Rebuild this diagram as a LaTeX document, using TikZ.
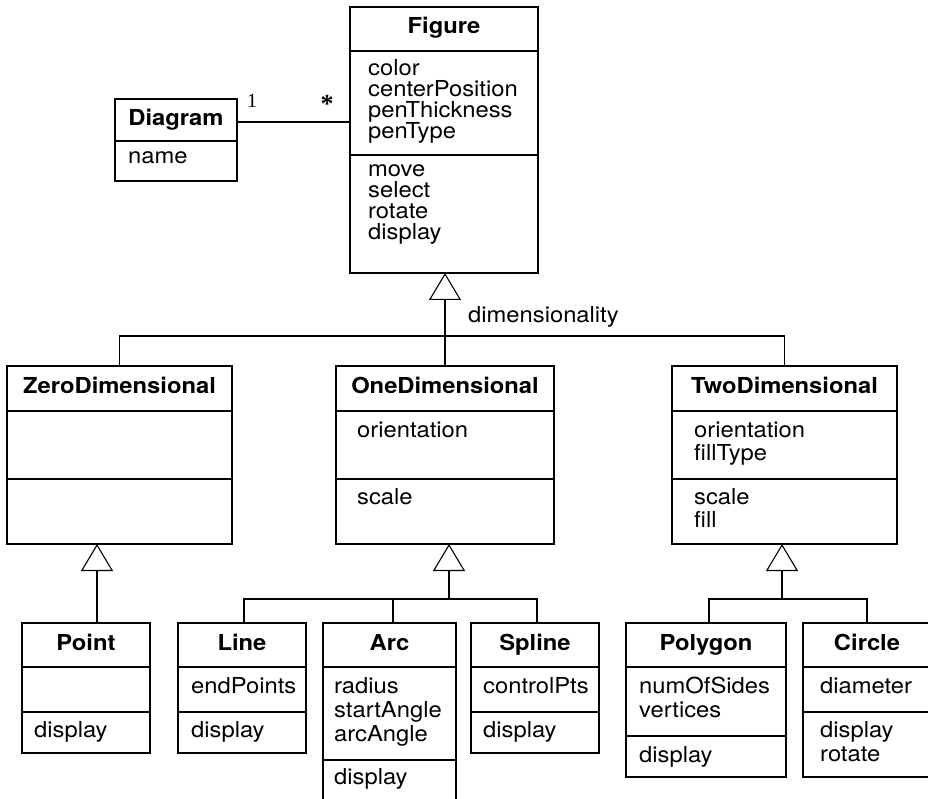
\documentclass[tikz,border=0pt]{standalone}
\usepackage{fontspec}
\setmainfont{TeX Gyre Heros}[FakeStretch=1.08]
\newfontfamily\multfont{Liberation Serif}
\usetikzlibrary{arrows.meta}

\newcommand\umlsize{\fontsize{22}{26}\selectfont}

\tikzset{
  lw/.style={line width=1.1pt},
  umlbox/.style={draw, lw, inner sep=0pt, outer sep=0pt, anchor=north west},
  txt/.style={anchor=base west, inner sep=0pt, font=\umlsize},
  ttl/.style={anchor=base, inner sep=0pt, font=\umlsize\bfseries},
  gen/.style={lw, -{Triangle[open, length=27pt, width=32pt, line width=1.1pt]}},
  mult/.style={inner sep=0pt, font=\multfont\fontsize{20}{22}\selectfont},
}

% a column of text lines: name, x, first baseline, line step, items
\newcommand\textlines[5]{%
  \foreach \t [count=\i from 0] in {#5}
    \node[txt] (#1\i) at ({#2},{#3+#4*\i}) {\t};}
% compartment divider: x1, x2, y
\newcommand\divider[3]{\draw[lw] (#1,#3) -- (#2,#3);}

\begin{document}
\begin{tikzpicture}[x=1pt, y=-1pt]
\path[use as bounding box] (0,0) rectangle (928,799);
\clip (0,0) rectangle (928,799);

% ---------- class boxes ----------
\node[umlbox, minimum width=122pt, minimum height=82pt]  (diag)   at (115,99)  {};
\node[umlbox, minimum width=188pt, minimum height=266pt] (fig)    at (350,7)   {};
\node[umlbox, minimum width=225pt, minimum height=178pt] (zero)   at (7,366)   {};
\node[umlbox, minimum width=218pt, minimum height=178pt] (one)    at (336,366) {};
\node[umlbox, minimum width=225pt, minimum height=178pt] (two)    at (672,366) {};
\node[umlbox, minimum width=128pt, minimum height=130pt] (point)  at (22,623)  {};
\node[umlbox, minimum width=128pt, minimum height=130pt] (line)   at (178,623) {};
\node[umlbox, minimum width=133pt, minimum height=200pt] (arc)    at (323,623) {};
\node[umlbox, minimum width=128pt, minimum height=130pt] (spline) at (471,623) {};
\node[umlbox, minimum width=160pt, minimum height=154pt] (poly)   at (626,623) {};
\node[umlbox, minimum width=128pt, minimum height=154pt] (circ)   at (803,623) {};

% ---------- compartment dividers ----------
\divider{115}{237}{141}
\divider{350}{538}{51}  \divider{350}{538}{155}
\divider{7}{232}{411}   \divider{7}{232}{479}
\divider{336}{554}{411} \divider{336}{554}{479}
\divider{672}{897}{411} \divider{672}{897}{479}
\divider{22}{150}{667}  \divider{22}{150}{712}
\divider{178}{306}{667} \divider{178}{306}{712}
\divider{323}{456}{667} \divider{323}{456}{760}
\divider{471}{599}{667} \divider{471}{599}{712}
\divider{626}{786}{667} \divider{626}{786}{736}
\divider{803}{931}{667} \divider{803}{931}{712}

% ---------- class names ----------
\node[ttl] (diagT)   at (176,126)   {Diagram};
\node[ttl] (figT)    at (444,34)    {Figure};
\node[ttl] (zeroT)   at (119.5,393) {ZeroDimensional};
\node[ttl] (oneT)    at (445,393)   {OneDimensional};
\node[ttl] (twoT)    at (784.5,393) {TwoDimensional};
\node[ttl] (pointT)  at (86,650)    {Point};
\node[ttl] (lineT)   at (242,650)   {Line};
\node[ttl] (arcT)    at (389.5,650) {Arc};
\node[ttl] (splineT) at (535,650)   {Spline};
\node[ttl] (polyT)   at (706,650)   {Polygon};
\node[ttl] (circT)   at (867,650)   {Circle};

% ---------- attributes and operations ----------
\textlines{diagA}{128}{164}{21}{name}
\textlines{figA}{368}{76}{21}{color,centerPosition,penThickness,penType}
\textlines{figO}{368}{177}{21}{move,select,rotate,display}
\textlines{oneA}{357}{437}{23.5}{orientation}
\textlines{oneO}{357}{504}{23.5}{scale}
\textlines{twoA}{694}{437}{23.5}{orientation,fillType}
\textlines{twoO}{694}{504}{23.5}{scale,fill}
\textlines{pointO}{34}{737}{24}{display}
\textlines{lineA}{191}{693}{24}{endPoints}
\textlines{lineO}{191}{737}{24}{display}
\textlines{arcA}{334}{693}{24}{radius,startAngle,arcAngle}
\textlines{arcO}{334}{784}{24}{display}
\textlines{splineA}{483}{693}{24}{controlPts}
\textlines{splineO}{483}{737}{24}{display}
\textlines{polyA}{639}{693}{24}{numOfSides,vertices}
\textlines{polyO}{639}{762}{24}{display}
\textlines{circA}{820}{693}{24}{diameter}
\textlines{circO}{820}{737}{24.5}{display,rotate}

% ---------- association Diagram -- Figure ----------
\coordinate (assoc) at (0,122);
\draw[lw] (diag.east |- assoc) -- (fig.west |- assoc);
\node[mult, anchor=base] (m1) at (252,108) {1};
\node[mult] (mstar) at (327,104) {\fontsize{26}{26}\selectfont\bfseries *};

% ---------- generalisation: Figure ----------
\coordinate (hub) at (445,336);
\draw[lw] (zero.north) |- (hub) -| (two.north);
\draw[gen] (one.north) -- (one.north |- fig.south);
\node[txt] (dimlbl) at (468,322) {dimensionality};

% ---------- generalisation: ZeroDimensional ----------
\coordinate (zp) at (97,0);
\draw[gen] (point.north -| zp) -- (zero.south -| zp);

% ---------- generalisation: OneDimensional ----------
\coordinate (oh) at (449,599);
\coordinate (lx) at (244,0);
\coordinate (ax) at (393,0);
\coordinate (sx) at (537,0);
\draw[lw] (line.north -| lx) |- (oh) -| (spline.north -| sx);
\draw[lw] (arc.north -| ax) -- (oh -| ax);
\draw[gen] (oh) -- (oh |- one.south);

% ---------- generalisation: TwoDimensional ----------
\coordinate (th) at (782,599);
\coordinate (px) at (709,0);
\draw[lw] (poly.north -| px) |- (th) -| (circ.north);
\draw[gen] (th) -- (th |- two.south);
\end{tikzpicture}
\end{document}
